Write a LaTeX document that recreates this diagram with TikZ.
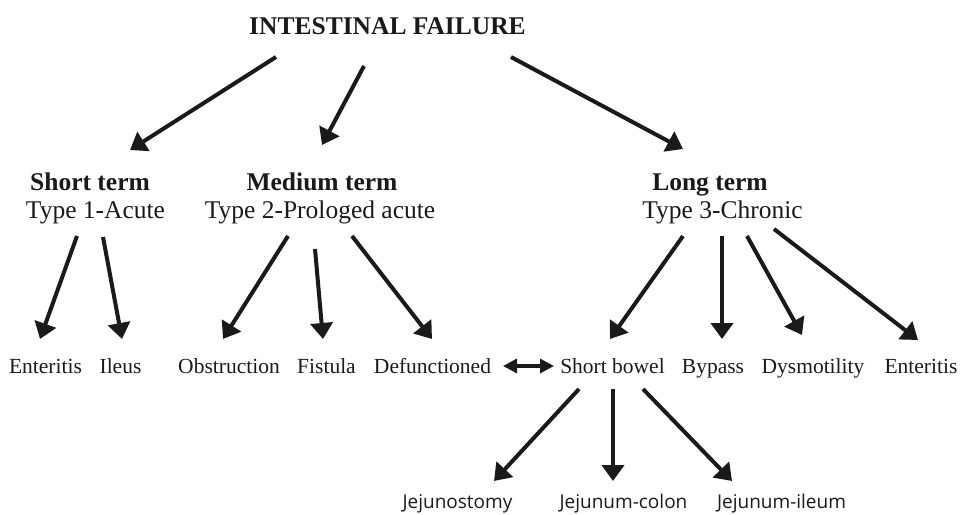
\documentclass[tikz,border=0pt]{standalone}
\usepackage{fontspec}
\setmainfont{Liberation Serif}
\newfontfamily\labelsans{Open Sans}
\usetikzlibrary{arrows.meta}

\definecolor{ink}{RGB}{26,26,26}

\tikzset{
  arr/.style={draw=ink, line width=4pt, -{Triangle[length=16pt,width=22pt]}},
  twoway/.style={draw=ink, line width=3.2pt, {Triangle[length=14pt,width=14pt]}-{Triangle[length=14pt,width=14pt]}},
  headline/.style={anchor=base, inner sep=0pt, text=ink, font=\fontsize{25.5}{30}\selectfont\bfseries},
  typeline/.style={anchor=base, inner sep=0pt, text=ink, font=\fontsize{25.5}{30}\selectfont},
  leaf/.style={anchor=base, inner sep=0pt, text=ink, font=\fontsize{21.5}{26}\selectfont},
  subleaf/.style={anchor=base, inner sep=0pt, text=ink, font=\labelsans\fontsize{19}{23}\selectfont},
}

\begin{document}
\begin{tikzpicture}[x=1pt, y=-1pt]
\useasboundingbox (0,0) rectangle (961,514);

% root
\node[headline] (title) at (387.5,34) {INTESTINAL FAILURE};

% three durations
\node[headline] (st) at (90,190)  {Short term};
\node[typeline] (t1) at (95.5,218) {Type 1-Acute};
\node[headline] (mt) at (322,190) {Medium term};
\node[typeline] (t2) at (320,218) {Type 2-Prologed acute};
\node[headline] (lt) at (710,190) {Long term};
\node[typeline] (t3) at (722.5,218) {Type 3-Chronic};

% causes
\node[leaf] (ent1) at (45.5,373)  {Enteritis};
\node[leaf] (ile)  at (120.5,373) {Ileus};
\node[leaf] (obs)  at (229,373)   {Obstruction};
\node[leaf] (fis)  at (326.5,373) {Fistula};
\node[leaf] (def)  at (432.5,373) {Defunctioned};
\node[leaf] (sb)   at (612.5,373) {Short bowel};
\node[leaf] (byp)  at (713,373)   {Bypass};
\node[leaf] (dys)  at (813,373)   {Dysmotility};
\node[leaf] (ent2) at (921,373)   {Enteritis};

% short bowel anatomy
\node[subleaf] (jst) at (457.5,508) {Jejunostomy};
\node[subleaf] (jco) at (623.5,508) {Jejunum-colon};
\node[subleaf] (jil) at (781.5,508) {Jejunum-ileum};

% root to durations
\draw[arr] ([shift={(-111.5,23)}]title.base) -- ([shift={(40,-40)}]st.base);
\draw[arr] ([shift={(-23.5,32)}]title.base)  -- ([shift={(0,-45)}]mt.base);
\draw[arr] ([shift={(123.5,23)}]title.base)  -- ([shift={(-27,-41)}]lt.base);

% short term
\draw[arr] ([shift={(-18.5,18)}]t1.base) -- ([shift={(-5.5,-34)}]ent1.base);
\draw[arr] ([shift={(7.5,19)}]t1.base)   -- ([shift={(1.5,-34)}]ile.base);

% medium term
\draw[arr] ([shift={(-32,18)}]t2.base) -- ([shift={(-6,-34)}]obs.base);
\draw[arr] ([shift={(-5,31)}]t2.base)  -- ([shift={(-3.5,-34)}]fis.base);
\draw[arr] ([shift={(32,18)}]t2.base)  -- ([shift={(-0.5,-34)}]def.base);

% long term
\draw[arr] ([shift={(-39.5,18)}]t3.base) -- ([shift={(-2.5,-34)}]sb.base);
\draw[arr] ([shift={(-0.5,18)}]t3.base)  -- ([shift={(9,-34)}]byp.base);
\draw[arr] ([shift={(24.5,18)}]t3.base)  -- ([shift={(-11,-38)}]dys.base);
\draw[arr] ([shift={(51.5,11)}]t3.base)  -- ([shift={(-3,-33)}]ent2.base);

% defunctioned <-> short bowel
\draw[twoway] ([shift={(70.5,-7)}]def.base) -- ([shift={(-58.5,-7)}]sb.base);

% short bowel types
\draw[arr] ([shift={(-33.5,16)}]sb.base) -- ([shift={(36.5,-27)}]jst.base);
\draw[arr] ([shift={(0.5,16)}]sb.base)   -- ([shift={(-10.5,-27)}]jco.base);
\draw[arr] ([shift={(30.5,16)}]sb.base)  -- ([shift={(-49.5,-27)}]jil.base);
\end{tikzpicture}
\end{document}
